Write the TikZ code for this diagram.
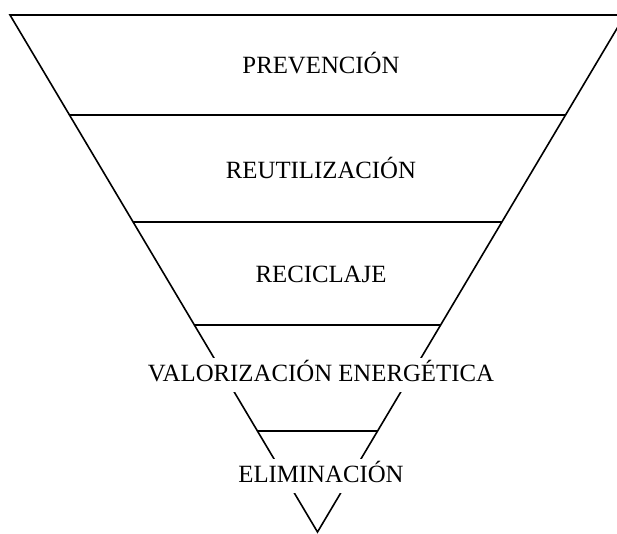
\documentclass[tikz,border=0pt]{standalone}
\usepackage{fontspec}
\setmainfont{Liberation Serif}

\tikzset{
    tier/.style={fill=white, anchor=base, inner xsep=2pt, inner ysep=8pt,
        text height=16pt, text depth=2pt, font=\fontsize{24.8}{29}\selectfont},
    edge/.style={line width=1.6pt, line join=miter},
}

\begin{document}
\begin{tikzpicture}[x=1pt, y=-1pt]
        \def\ytop{15}
        \def\yapex{532}
        \def\xmid{317.5}
        \def\half{307.5}

        \useasboundingbox (0,0) rectangle (617,533);

        % OUTLINE
        \coordinate (tl) at (\xmid-\half,\ytop);
        \coordinate (tr) at (\xmid+\half,\ytop);
        \coordinate (apex) at (\xmid,\yapex);
        \draw[edge] (tl) -- (tr) -- (apex) -- cycle;

        % DIVIDERS
        \foreach \y in {115,222,325,431} {
            \pgfmathsetmacro\w{\half/(\yapex-\ytop)*(\yapex-\y)}
            \draw[edge] (\xmid-\w,\y) -- (\xmid+\w,\y);
        }

        % LABELS (white boxes break the slanted sides)
        \foreach \txt/\y [count=\i] in {PREVENCIÓN/73.3, REUTILIZACIÓN/178, RECICLAJE/282, VALORIZACIÓN ENERGÉTICA/381.7, ELIMINACIÓN/482.7} {
            \node[tier] (tier\i) at (321,\y) {\txt};
        }
    \end{tikzpicture}
\end{document}
